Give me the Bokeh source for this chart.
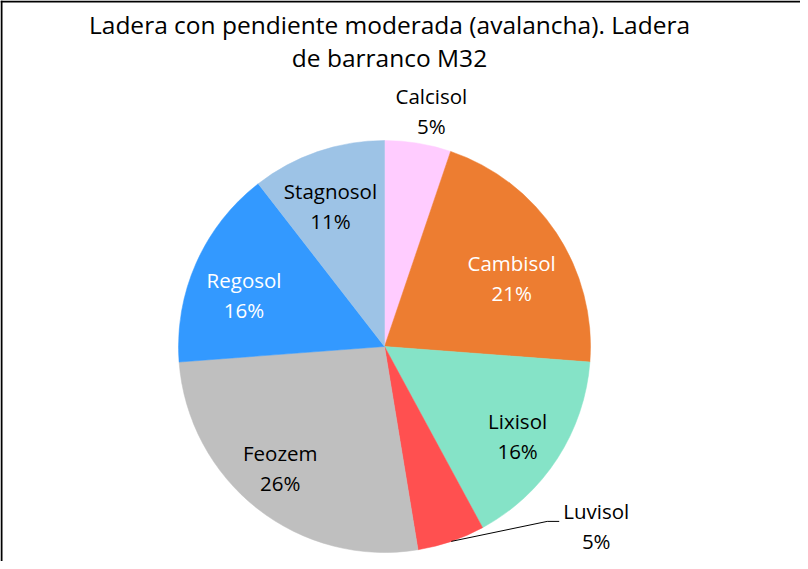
import math
from bokeh.plotting import figure
from bokeh.models import Span, Range1d
from bokeh.core.properties import value
from bokeh.embed import file_html
from bokeh.resources import INLINE

title_lines = ["Ladera con pendiente moderada (avalancha). Ladera", "de barranco M32"]
categories = ["Calcisol", "Cambisol", "Lixisol", "Luvisol", "Feozem", "Regosol", "Stagnosol"]
values = [5.2, 21.0, 15.9, 5.3, 26.4, 15.7, 10.5]
pct_labels = ["5%", "21%", "16%", "5%", "26%", "16%", "11%"]
colors = ["#FFCCFF", "#ED7D31", "#85E3C7", "#FF5050", "#BFBFBF", "#3399FF", "#9DC3E6"]
text_colors = ["black", "white", "black", "black", "black", "white", "black"]

W, H = 800, 561
FONT = "Open Sans"
cx, cy, R = 384, 215, 206
label_r = [1.16, 0.74, 0.77, None, 0.78, 0.73, 0.72]
nudge_x = [8, 0, 0, 0, -5, -3, -6]
nudge_y = [0, -16, -3, -5, 5, -10, 0]

p = figure(width=W, height=H, output_backend="svg", toolbar_location=None,
           x_range=Range1d(0, W), y_range=Range1d(0, H), min_border=0)
p.axis.visible = False
p.grid.visible = False
p.outline_line_color = None
p.background_fill_color = "white"

total = sum(values)
cum = 0.0
starts, ends, mids = [], [], []
for v in values:
    a0 = math.pi / 2 - 2 * math.pi * cum / total
    cum += v
    a1 = math.pi / 2 - 2 * math.pi * cum / total
    starts.append(a0)
    ends.append(a1)
    mids.append((a0 + a1) / 2)

p.wedge(x=cx, y=cy, radius=R, start_angle=starts, end_angle=ends,
        direction="clock", fill_color=colors, line_color=colors, line_width=0.5)

fs = "20.5px"
gap = 15
for i, name in enumerate(categories):
    m = mids[i]
    if label_r[i] is None:
        # Luvisol: outside label with leader line
        ex = cx + R * math.cos(m)
        ey = cy + R * math.sin(m)
        lx, ly = ex + 96, ey + 20
        p.line(x=[ex, lx, lx + 12], y=[ey, ly, ly], line_color="black", line_width=1)
        tx, ty = lx + 49, ly
    else:
        tx = cx + label_r[i] * R * math.cos(m)
        ty = cy + label_r[i] * R * math.sin(m)
    tx += nudge_x[i]
    ty += nudge_y[i]
    p.text(x=[tx], y=[ty + gap], text=[name], text_align="center", text_baseline="middle",
           text_font=value(FONT), text_font_size=fs, text_color=text_colors[i])
    p.text(x=[tx], y=[ty - gap], text=[pct_labels[i]], text_align="center", text_baseline="middle",
           text_font=value(FONT), text_font_size=fs, text_color=text_colors[i])

for j, t in enumerate(title_lines):
    p.text(x=[W / 2 - 11], y=[H - 24 - j * 33], text=[t], text_align="center", text_baseline="middle",
           text_font=value(FONT), text_font_size="24.5px", text_color="black")

p.add_layout(Span(location=1, dimension="height", line_color="black", line_width=2))
p.add_layout(Span(location=H - 1, dimension="width", line_color="black", line_width=2))

open("out.html", "w").write(file_html(p, INLINE))
